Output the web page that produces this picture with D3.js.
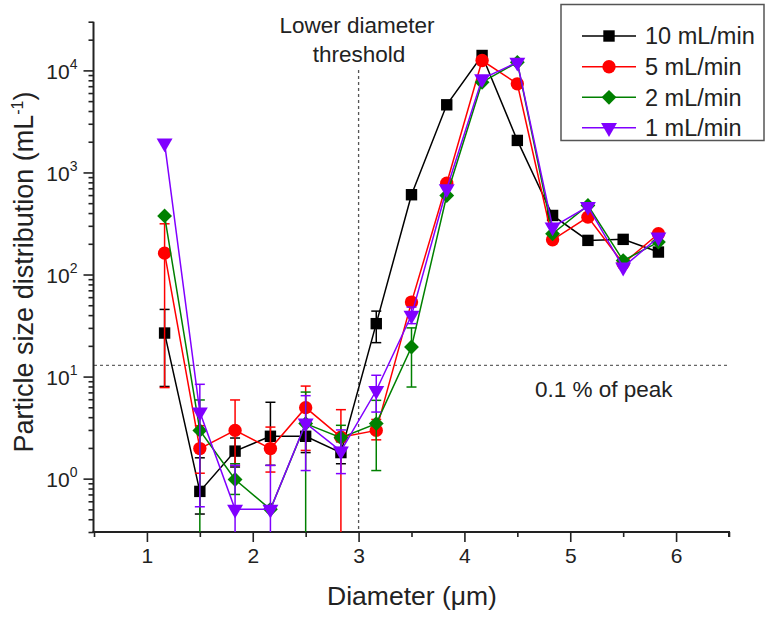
<!DOCTYPE html>
<html>
<head>
<meta charset="utf-8">
<script src="https://cdn.jsdelivr.net/npm/d3@7"></script>
<style>
  html, body { margin: 0; padding: 0; background: #fff; }
  text { font-family: "Liberation Sans", Arial, sans-serif; fill: #222; }
</style>
</head>
<body>
<svg id="chart" width="768" height="619"></svg>
<script>
// ---------- data ----------
const diameters = [1.167, 1.5, 1.833, 2.167, 2.5, 2.833, 3.167, 3.5, 3.833, 4.167, 4.5, 4.833, 5.167, 5.5, 5.833];

const seriesNames = ["10 mL/min", "5 mL/min", "2 mL/min", "1 mL/min"];

const flow10 = [26.7, 0.75, 1.86, 2.6, 2.6, 1.8, 33, 605, 4600, 14000, 2060, 379, 216, 221, 166];
const flow5  = [162, 1.97, 2.97, 1.97, 4.96, 2.55, 2.97, 53.7, 785, 12500, 7390, 219, 365, 128, 251];
const flow2  = [375, 2.97, 0.98, 0.50, 3.46, 2.52, 3.46, 19.5, 595, 7660, 12000, 251, 475, 137, 208];
const flow1  = [1940, 4.49, 0.50, 0.50, 3.5, 1.86, 7.3, 39.8, 692, 8280, 12000, 291, 464, 118, 232];

// error bar limits (low, high); null = no visible error bar
const err10Lo = [8, 0.45, 1.3, 1.35, 1.8, 1.4, 21.5, null, null, null, null, null, null, null, null];
const err10Hi = [45.5, 1.6, 2.5, 5.6, 3.6, 2.3, 43.8, null, null, null, null, null, null, null, null];
const err5Lo  = [7.8, 1.13, 1.35, 1.16, 1.89, 0.1, 2.4, 50, null, null, null, null, null, null, null];
const err5Hi  = [314, 3.3, 5.9, 3.2, 8.07, 4.74, 3.8, 58, null, null, null, null, null, null, null];
const err2Lo  = [null, 0.1, 0.7, null, 0.1, 1.9, 1.2, 7.9, null, null, null, null, null, null, null];
const err2Hi  = [null, 5.9, 1.4, null, 7.05, 3.33, 5.85, 30, null, null, null, null, null, null, null];
const err1Lo  = [null, 0.53, 0.1, 0.1, 1.2, 1.12, 4.49, 33, null, null, null, null, null, null, null];
const err1Hi  = [null, 8.4, 1.35, 1.35, 6.5, 3.0, 10.3, 48, null, null, null, null, null, null, null];

const xMajorTicks = [1, 2, 3, 4, 5, 6];
const xMinorTicks = [0.5, 1.5, 2.5, 3.5, 4.5, 5.5, 6.5];
const yMajorTicks = [1, 10, 100, 1000, 10000];

const thresholdDiameter = 3;
const peakFractionLevel = 12.9;

// ---------- setup ----------
const colors = ["#000000", "#ff0000", "#008000", "#8000ff"];
const symbols = ["square", "circle", "diamond", "triangleDown"];
const series = [
  {name: seriesNames[0], values: flow10, lo: err10Lo, hi: err10Hi},
  {name: seriesNames[1], values: flow5,  lo: err5Lo,  hi: err5Hi},
  {name: seriesNames[2], values: flow2,  lo: err2Lo,  hi: err2Hi},
  {name: seriesNames[3], values: flow1,  lo: err1Lo,  hi: err1Hi}
];

const svg = d3.select("#chart");
const pLeft = 94, pRight = 729, pTop = 21.7, pBottom = 532;

const x = d3.scaleLinear().domain([0.5, 6.5]).range([pLeft, pRight]);
const y = d3.scaleLog().domain([0.3, 30000]).range([pBottom, pTop]);

function symbolPath(kind, g) {
  if (kind === "square") return g.append("path").attr("d", d3.symbol(d3.symbolSquare, 130)());
  if (kind === "circle") return g.append("path").attr("d", d3.symbol(d3.symbolCircle, 140)());
  if (kind === "diamond") return g.append("path").attr("d", d3.symbol(d3.symbolSquare, 110)()).attr("transform", "rotate(45)");
  return g.append("path").attr("d", d3.symbol(d3.symbolTriangle, 110)()).attr("transform", "rotate(180)");
}

// ---------- reference lines ----------
svg.append("line")
  .attr("x1", x(thresholdDiameter)).attr("x2", x(thresholdDiameter))
  .attr("y1", 70).attr("y2", pBottom)
  .attr("stroke", "#555").attr("stroke-width", 1.3).attr("stroke-dasharray", "3,3");
svg.append("line")
  .attr("x1", pLeft).attr("x2", pRight)
  .attr("y1", y(peakFractionLevel)).attr("y2", y(peakFractionLevel))
  .attr("stroke", "#666").attr("stroke-width", 1.3).attr("stroke-dasharray", "3,3");

// ---------- axes ----------
const xAxisG = svg.append("g").attr("transform", `translate(0,${pBottom})`);
xAxisG.call(d3.axisBottom(x).tickValues(xMajorTicks).tickSize(10).tickPadding(6).tickFormat(d3.format("d")));
const xMinorG = svg.append("g").attr("transform", `translate(0,${pBottom})`);
xMinorG.call(d3.axisBottom(x).tickValues(xMinorTicks).tickSize(5).tickFormat(""));
xMinorG.select(".domain").remove();

const yAxisG = svg.append("g").attr("transform", `translate(${pLeft - 0.5},0)`);
yAxisG.call(d3.axisLeft(y).tickValues(yMajorTicks).tickSize(10).tickPadding(6).tickFormat(""));
const yMinorVals = [];
for (let e = -1; e <= 4; e++) for (let m = 2; m <= 9; m++) {
  const v = m * Math.pow(10, e);
  if (v >= 0.3 && v <= 30000) yMinorVals.push(v);
}
const yMinorG = svg.append("g").attr("transform", `translate(${pLeft - 0.5},0)`);
yMinorG.call(d3.axisLeft(y).tickValues(yMinorVals).tickSize(5).tickFormat(""));
yMinorG.select(".domain").remove();

[xAxisG, xMinorG, yAxisG, yMinorG].forEach(g => {
  g.selectAll(".domain").attr("stroke", "#222").attr("stroke-width", 2);
  g.selectAll(".tick line").attr("stroke", "#222").attr("stroke-width", 1.6);
});
xAxisG.selectAll(".domain").attr("d", `M${pLeft - 1.5},0H${pRight}V5`);
yAxisG.selectAll(".domain").attr("d", `M0,${pTop}V${pBottom + 1}`);
xAxisG.selectAll(".tick text").attr("font-size", 21).attr("fill", "#222")
  .attr("font-family", "Liberation Sans, Arial, sans-serif");

yAxisG.selectAll(".tick").each(function(d) {
  const t = d3.select(this).append("text")
    .attr("x", -16).attr("y", 8)
    .attr("text-anchor", "end")
    .attr("font-size", 21).attr("fill", "#222")
    .attr("font-family", "Liberation Sans, Arial, sans-serif");
  t.append("tspan").text("10");
  t.append("tspan").attr("dy", -10).attr("font-size", 14).text(Math.round(Math.log10(d)));
});

// ---------- axis titles ----------
svg.append("text")
  .attr("x", 412).attr("y", 605)
  .attr("text-anchor", "middle").attr("font-size", 26.5)
  .text("Diameter (μm)");

const yt = svg.append("text")
  .attr("transform", "translate(33,272) rotate(-90)")
  .attr("text-anchor", "middle").attr("font-size", 27);
yt.append("tspan").text("Particle size distribution (mL");
yt.append("tspan").attr("dy", -10).attr("font-size", 16).text("-1");
yt.append("tspan").attr("dy", 10).text(")");

// ---------- annotations ----------
svg.append("text").attr("x", 357).attr("y", 33).attr("text-anchor", "middle")
  .attr("font-size", 22.5).text("Lower diameter");
svg.append("text").attr("x", 359).attr("y", 62).attr("text-anchor", "middle")
  .attr("font-size", 22.5).text("threshold");
svg.append("text").attr("x", 535).attr("y", 397).attr("text-anchor", "start")
  .attr("font-size", 22.5).text("0.1 % of peak");

// ---------- data: lines, error bars, markers ----------
const clip = v => Math.max(0.3, Math.min(30000, v));
series.forEach((s, i) => {
  const g = svg.append("g");
  const pts = diameters.map((d, j) => ({x: d, y: s.values[j], lo: s.lo[j], hi: s.hi[j]}));
  pts.forEach(p => {
    if (p.lo == null && p.hi == null) return;
    const px = x(p.x);
    const ylo = y(clip(p.lo)), yhi = y(clip(p.hi));
    g.append("line").attr("x1", px).attr("x2", px).attr("y1", ylo).attr("y2", yhi)
      .attr("stroke", colors[i]).attr("stroke-width", 1.5);
    if (p.hi != null) g.append("line").attr("x1", px - 5).attr("x2", px + 5).attr("y1", yhi).attr("y2", yhi)
      .attr("stroke", colors[i]).attr("stroke-width", 1.5);
    if (p.lo != null && p.lo >= 0.3) g.append("line").attr("x1", px - 5).attr("x2", px + 5).attr("y1", ylo).attr("y2", ylo)
      .attr("stroke", colors[i]).attr("stroke-width", 1.5);
  });
  g.append("path").datum(pts)
    .attr("fill", "none").attr("stroke", colors[i]).attr("stroke-width", 1.5)
    .attr("d", d3.line().x(p => x(p.x)).y(p => y(p.y)));
  pts.forEach(p => {
    const mg = g.append("g").attr("transform", `translate(${x(p.x)},${y(p.y)})`);
    symbolPath(symbols[i], mg).attr("fill", colors[i]);
  });
});

// ---------- legend ----------
const lg = svg.append("g");
lg.append("rect").attr("x", 561).attr("y", 4.5).attr("width", 203).attr("height", 136)
  .attr("fill", "#fff").attr("stroke", "#555").attr("stroke-width", 1.5);
const rowY = [36, 66.7, 97.3, 127.7];
series.forEach((s, i) => {
  const r = lg.append("g").attr("transform", `translate(0,${rowY[i]})`);
  r.append("line").attr("x1", 582).attr("x2", 636).attr("y1", 0).attr("y2", 0)
    .attr("stroke", colors[i]).attr("stroke-width", 1.5);
  const mg = r.append("g").attr("transform", "translate(609,0)");
  symbolPath(symbols[i], mg).attr("fill", colors[i]);
  r.append("text").attr("x", 645).attr("y", 0).attr("dy", "0.36em")
    .attr("font-size", 23.5).text(s.name);
});
</script>
</body>
</html>
